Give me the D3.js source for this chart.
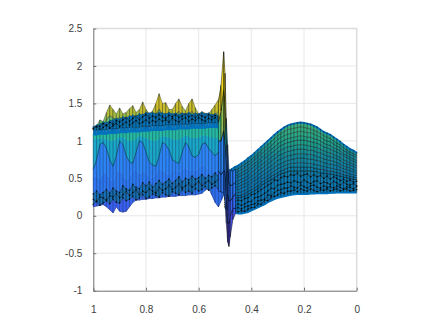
<!DOCTYPE html>
<html>
<head>
<meta charset="utf-8">
<script src="https://d3js.org/d3.v7.min.js"></script>
<style>
  body { margin: 0; background: #fff; }
  svg { display: block; }
  .axis text { font-family: "Liberation Sans", Arial, sans-serif; font-size: 10px; fill: #404040; }
  .axis path, .axis line { stroke: #6e6e6e; }
</style>
</head>
<body>
<div id="chart"></div>
<script>
var xTicks = [1, 0.8, 0.6, 0.4, 0.2, 0];
var yTicks = [-1, -0.5, 0, 0.5, 1, 1.5, 2, 2.5];

var xLeft = [1,.9875,.975,.9625,.95,.9375,.925,.9125,.9,.8875,.875,.8625,.85,.8375,.825,.8125,.8,.7875,.775,.7625,.75,.7375,.725,.7125,.7,.6875,.675,.6625,.65,.6375,.625,.6125,.6,.5875,.575,.5625,.55,.5375,.525,.5125,.5];
var xRight = [.5,.4875,.475,.4625,.45,.4375,.425,.4125,.4,.3875,.375,.3625,.35,.3375,.325,.3125,.3,.2875,.275,.2625,.25,.2375,.225,.2125,.2,.1875,.175,.1625,.15,.1375,.125,.1125,.1,.0875,.075,.0625,.05,.0375,.025,.0125,0];
var xJump = [.525,.515,.505,.5,.495,.49,.485,.48,.47,.46];

// left part, front face from the bottom up
var faceBottom = [.12,.13,.14,.15,.12,.08,.04,.12,.06,.05,.06,.12,.18,.21,.21,.22,.22,.23,.23,.24,.24,.25,.25,.26,.26,.26,.27,.27,.27,.28,.28,.28,.29,.30,.34,.37,.28,.18,.12,.22,.32];
var faceLow1 = [.15,.19,.14,.17,.20,.16,.22,.18,.17,.24,.20,.22,.26,.21,.24,.28,.23,.25,.29,.27,.25,.31,.28,.26,.32,.30,.28,.35,.31,.33,.30,.36,.33,.35,.39,.34,.37,.40,.36,.39,.37];
var faceLow2 = [.22,.19,.25,.24,.21,.27,.25,.30,.24,.28,.33,.27,.31,.35,.28,.33,.31,.36,.33,.30,.38,.34,.36,.41,.35,.38,.43,.37,.40,.44,.38,.42,.46,.40,.44,.47,.42,.45,.49,.43,.47];
var faceLow3 = [.29,.33,.28,.31,.35,.30,.37,.33,.31,.40,.36,.34,.42,.38,.36,.44,.40,.45,.38,.43,.47,.42,.45,.49,.43,.47,.52,.45,.50,.48,.53,.49,.51,.55,.50,.54,.52,.57,.53,.56,.55];
var faceMid = [.50,.55,.48,.60,.55,.50,.45,.58,.62,.55,.48,.52,.60,.62,.55,.60,.58,.52,.50,.56,.62,.60,.58,.55,.60,.62,.58,.62,.65,.60,.62,.60,.64,.68,.66,.62,.62,.60,.62,.58,.56];
var faceWave = [.62,.75,.95,.98,.90,.75,.66,.80,1.0,.95,.80,.72,.70,.85,1.0,.98,.85,.72,.68,.66,.80,.98,.95,.88,.75,.72,.70,.85,.98,.92,.80,.78,.82,.95,.98,.90,.85,.80,.85,.70,.60];
var faceTeal = [1.02,1.03,1.03,1.04,1.02,1.0,1.0,1.03,1.06,1.05,1.02,1.0,1.0,1.03,1.07,1.06,1.04,1.02,1.0,1.0,1.03,1.07,1.06,1.05,1.02,1.02,1.02,1.05,1.08,1.06,1.04,1.04,1.05,1.07,1.08,1.06,1.05,1.04,1.04,1.0,.95];
var bandLow = [1.09,1.09,1.10,1.10,1.10,1.11,1.11,1.11,1.12,1.12,1.12,1.13,1.13,1.13,1.13,1.14,1.14,1.14,1.15,1.15,1.15,1.15,1.16,1.16,1.16,1.16,1.17,1.17,1.17,1.17,1.18,1.18,1.18,1.18,1.18,1.19,1.19,1.19,1.18,1.15,1.10];
var bandHigh = [1.14,1.14,1.15,1.15,1.15,1.16,1.16,1.16,1.17,1.17,1.17,1.18,1.18,1.18,1.18,1.19,1.19,1.19,1.20,1.20,1.20,1.20,1.21,1.21,1.21,1.21,1.22,1.22,1.22,1.22,1.23,1.23,1.23,1.23,1.23,1.24,1.24,1.24,1.23,1.20,1.15];

// left part, back of the surface and the peaks behind it
var back1 = [1.16,1.19,1.15,1.18,1.21,1.17,1.20,1.23,1.19,1.22,1.25,1.21,1.24,1.27,1.23,1.25,1.28,1.24,1.27,1.25,1.29,1.26,1.28,1.25,1.30,1.27,1.25,1.29,1.31,1.26,1.29,1.27,1.31,1.28,1.26,1.30,1.28,1.31,1.27,1.24,1.16];
var back2 = [1.17,1.20,1.19,1.23,1.20,1.25,1.22,1.27,1.25,1.28,1.31,1.26,1.30,1.33,1.28,1.32,1.35,1.30,1.33,1.31,1.35,1.32,1.30,1.34,1.32,1.35,1.31,1.33,1.36,1.32,1.34,1.31,1.35,1.33,1.31,1.35,1.32,1.34,1.31,1.26,1.18];
var back3 = [1.19,1.21,1.22,1.25,1.24,1.27,1.28,1.30,1.29,1.32,1.31,1.33,1.34,1.33,1.36,1.35,1.38,1.37,1.38,1.36,1.38,1.37,1.36,1.38,1.36,1.37,1.35,1.37,1.36,1.38,1.35,1.37,1.36,1.38,1.36,1.37,1.35,1.36,1.34,1.30,1.20];
var peakMid = [1.17,1.19,1.23,1.22,1.28,1.34,1.31,1.28,1.32,1.28,1.29,1.31,1.33,1.28,1.31,1.36,1.31,1.28,1.30,1.35,1.43,1.35,1.36,1.32,1.32,1.35,1.40,1.33,1.30,1.35,1.40,1.32,1.28,1.30,1.29,1.28,1.32,1.35,1.40,1.50,1.60];
var peakTop = [1.15,1.2,1.28,1.26,1.38,1.48,1.42,1.36,1.44,1.36,1.38,1.43,1.47,1.38,1.42,1.52,1.42,1.36,1.4,1.5,1.63,1.5,1.51,1.42,1.42,1.5,1.56,1.46,1.4,1.5,1.56,1.44,1.36,1.39,1.37,1.36,1.42,1.48,1.55,1.75,1.9];

// narrow jump around 0.5
var jump0 = [.33,.32,.3,.2,-.1,-.35,-.41,-.28,-.05,.03];
var jump1 = [.6,.55,.6,.6,.3,-.1,-.1,0,.1,.1];
var jump2 = [1.0,1.0,1.15,1.0,.75,.3,.2,.2,.25,.3];
var jump3 = [1.25,1.4,1.7,1.5,1.05,.70,.45,.40,.42,.45];
var jump4 = [1.50,1.75,2.19,1.9,1.3,.95,.62,.60,.60,.62];

// right part, rows from the bottom edge to the top edge
var rightRows = [
  [.10,.08,.06,.04,.03,.03,.04,.05,.07,.09,.11,.13,.15,.18,.20,.22,.24,.25,.26,.27,.28,.285,.29,.29,.29,.29,.295,.295,.30,.30,.30,.30,.305,.305,.31,.31,.31,.31,.31,.31,.31],
  [.12,.11,.08,.07,.05,.07,.06,.09,.11,.11,.16,.15,.21,.20,.25,.26,.28,.31,.30,.33,.33,.35,.32,.36,.34,.33,.36,.34,.32,.35,.34,.36,.33,.35,.36,.33,.35,.36,.33,.34,.35],
  [.15,.13,.12,.10,.11,.09,.12,.13,.15,.16,.20,.21,.22,.28,.27,.31,.34,.35,.37,.37,.40,.38,.37,.41,.39,.37,.40,.41,.38,.37,.40,.38,.39,.37,.40,.38,.36,.39,.38,.36,.39],
  [.18,.17,.16,.13,.16,.14,.16,.19,.19,.24,.25,.27,.30,.33,.37,.36,.41,.42,.43,.45,.44,.47,.45,.44,.48,.45,.43,.46,.47,.43,.45,.44,.42,.46,.44,.41,.45,.42,.41,.43,.40],
  [.23,.21,.21,.19,.21,.20,.23,.24,.28,.29,.32,.35,.38,.41,.43,.48,.47,.51,.53,.52,.55,.54,.57,.53,.55,.56,.52,.55,.52,.54,.50,.53,.49,.52,.50,.47,.49,.46,.48,.45,.46],
  [.26,.25,.24,.24,.24,.25,.26,.29,.31,.34,.36,.41,.43,.46,.48,.51,.54,.56,.57,.59,.60,.60,.60,.60,.60,.60,.60,.59,.59,.57,.57,.56,.56,.55,.54,.53,.52,.51,.50,.49,.48],
  [.28,.28,.27,.27,.27,.28,.30,.33,.35,.38,.40,.45,.47,.50,.53,.55,.58,.60,.62,.64,.65,.65,.65,.65,.65,.65,.65,.64,.63,.62,.62,.60,.60,.59,.58,.57,.55,.54,.53,.52,.51],
  [.31,.31,.30,.31,.31,.32,.34,.37,.39,.42,.45,.49,.51,.54,.57,.60,.63,.65,.67,.69,.70,.70,.71,.71,.71,.70,.70,.69,.68,.67,.66,.65,.64,.63,.62,.61,.59,.58,.56,.55,.54],
  [.34,.34,.34,.35,.35,.37,.39,.41,.44,.47,.50,.53,.56,.59,.62,.65,.68,.70,.72,.74,.75,.76,.77,.77,.77,.76,.76,.75,.74,.73,.71,.70,.69,.68,.67,.65,.63,.62,.60,.59,.57],
  [.37,.37,.37,.38,.39,.41,.43,.45,.48,.51,.55,.58,.61,.64,.67,.70,.74,.76,.78,.80,.81,.82,.83,.83,.83,.82,.82,.81,.79,.78,.76,.75,.74,.73,.71,.69,.67,.65,.64,.62,.60],
  [.40,.40,.41,.42,.43,.45,.47,.50,.53,.56,.60,.63,.66,.70,.73,.76,.80,.82,.84,.86,.87,.88,.89,.89,.89,.88,.88,.87,.85,.84,.82,.80,.79,.78,.76,.74,.71,.69,.68,.66,.64],
  [.43,.43,.45,.46,.47,.49,.51,.54,.58,.61,.65,.68,.71,.75,.78,.81,.85,.88,.90,.92,.93,.94,.95,.95,.95,.94,.93,.92,.91,.89,.87,.85,.84,.82,.80,.78,.75,.73,.71,.69,.67],
  [.46,.47,.49,.50,.52,.54,.56,.59,.63,.66,.70,.73,.77,.80,.84,.87,.91,.94,.96,.98,.99,1.0,1.01,1.01,1.01,1.0,.99,.98,.97,.95,.92,.91,.89,.87,.85,.83,.80,.78,.75,.73,.71],
  [.48,.50,.52,.54,.55,.58,.60,.63,.67,.70,.74,.78,.81,.85,.89,.92,.96,.99,1.01,1.03,1.04,1.05,1.06,1.07,1.06,1.05,1.05,1.03,1.02,1.0,.97,.95,.94,.91,.89,.87,.83,.81,.78,.76,.74],
  [.51,.53,.55,.58,.59,.62,.65,.68,.71,.75,.79,.83,.86,.90,.94,.98,1.02,1.05,1.07,1.09,1.10,1.11,1.12,1.13,1.12,1.11,1.11,1.09,1.07,1.05,1.02,1.0,.99,.96,.93,.91,.87,.85,.82,.80,.78],
  [.54,.56,.58,.61,.63,.66,.69,.72,.75,.79,.83,.87,.91,.95,.99,1.03,1.07,1.10,1.12,1.15,1.16,1.17,1.18,1.19,1.18,1.17,1.16,1.14,1.12,1.10,1.07,1.05,1.03,1.0,.97,.95,.91,.88,.85,.83,.81],
  [.57,.59,.62,.65,.67,.70,.73,.77,.80,.84,.88,.92,.96,1.0,1.04,1.08,1.12,1.15,1.18,1.205,1.22,1.23,1.24,1.245,1.24,1.23,1.22,1.20,1.18,1.15,1.12,1.10,1.08,1.05,1.02,.99,.95,.92,.89,.87,.84]
];

function init(){
  var w = 436;
  var h = 327;

  var svg = d3.select("#chart").append("svg")
              .attr("width", w)
              .attr("height", h);

  var xScale = d3.scaleLinear().domain([1, 0]).range([93.3, 356.7]);
  var yScale = d3.scaleLinear().domain([-1, 2.5]).range([290.7, 28.5]);

  // parula, stretched so that most of the sheet stays blue
  var color = d3.scaleLinear()
                .domain([-0.41, 0, 0.3, 0.85, 1.0, 1.1, 1.25, 1.4, 1.6, 2.2])
                .range(["#3e26a8", "#4752f4", "#2d70ee", "#2d87f7", "#1aa8c8", "#25b9a0", "#6dc16f", "#c0bc30", "#e8c820", "#f9fb15"])
                .clamp(true);

  // the fine mesh on the right reads darker, its edges cover most of the fill
  var rightColor = d3.scaleLinear()
                     .domain([0, 0.5, 0.8, 1.0, 1.2])
                     .range(["#0072bd", "#0a78b0", "#128a9c", "#1fa58c", "#38b080"])
                     .clamp(true);

  // grid and box
  svg.append("g").selectAll("line").data(xTicks.slice(1, -1)).enter().append("line")
     .attr("x1", function(d){ return xScale(d); })
     .attr("x2", function(d){ return xScale(d); })
     .attr("y1", yScale(-1)).attr("y2", yScale(2.5))
     .attr("stroke", "#e8e8e8");
  svg.append("g").selectAll("line").data(yTicks.slice(1, -1)).enter().append("line")
     .attr("x1", xScale(1)).attr("x2", xScale(0))
     .attr("y1", function(d){ return yScale(d); })
     .attr("y2", function(d){ return yScale(d); })
     .attr("stroke", "#e8e8e8");
  svg.append("path")
     .attr("d", "M" + xScale(1) + "," + yScale(2.5) + "H" + xScale(0) + "V" + yScale(-1))
     .attr("fill", "none").attr("stroke", "#dcdcdc").attr("stroke-width", 1.5);

  var xAxis = d3.axisBottom(xScale).tickValues(xTicks).tickSizeInner(-3).tickSizeOuter(0).tickPadding(15)
                .tickFormat(function(d){ return String(d); });
  var yAxis = d3.axisLeft(yScale).tickValues(yTicks).tickSizeInner(-3).tickSizeOuter(0).tickPadding(11)
                .tickFormat(function(d){ return String(d); });

  svg.append("g").attr("class", "axis").attr("transform", "translate(0," + yScale(-1) + ")").call(xAxis);
  svg.append("g").attr("class", "axis").attr("transform", "translate(" + xScale(1) + ",0)").call(yAxis);

  // one strip of the surface between two rows, edge 0 means no black mesh on it
  function strip(xs, low, high, fill, edge){
    var line = d3.line()
                 .x(function(p){ return xScale(p[0]); })
                 .y(function(p){ return yScale(p[1]); });
    var fillOf = function(i){
      if(typeof fill == "string") return fill;
      return fill((low[i] + low[i + 1] + high[i] + high[i + 1]) / 4);
    };
    svg.append("g").selectAll("path")
       .data(d3.range(xs.length - 1))
       .enter()
       .append("path")
       .attr("d", function(i){
         return line([[xs[i], low[i]], [xs[i + 1], low[i + 1]], [xs[i + 1], high[i + 1]], [xs[i], high[i]]]) + "Z";
       })
       .attr("fill", fillOf)
       .attr("stroke", function(i){ return edge ? "#000" : fillOf(i); })
       .attr("stroke-opacity", edge ? edge : 1)
       .attr("stroke-width", 0.5);
  }

  // vertical mesh lines on the front face
  function columns(xs, low, high){
    svg.append("g").selectAll("line")
       .data(xs)
       .enter()
       .append("line")
       .attr("x1", function(d){ return xScale(d); })
       .attr("x2", function(d){ return xScale(d); })
       .attr("y1", function(d, i){ return yScale(low[i]); })
       .attr("y2", function(d, i){ return yScale(high[i]); })
       .attr("stroke", "#0a2a4a")
       .attr("stroke-opacity", 0.6)
       .attr("stroke-width", 0.7);
  }

  function rowLine(xs, row, stroke, width){
    var line = d3.line()
                 .x(function(d, i){ return xScale(xs[i]); })
                 .y(function(d){ return yScale(d); });
    svg.append("path")
       .datum(row)
       .attr("d", line)
       .attr("fill", "none")
       .attr("stroke", stroke)
       .attr("stroke-width", width);
  }

  // dark specks on the tightly packed rows
  function specks(xs, row, fill){
    svg.append("g").selectAll("circle")
       .data(row)
       .enter()
       .append("circle")
       .attr("cx", function(d, i){ return xScale(xs[i]); })
       .attr("cy", function(d){ return yScale(d); })
       .attr("r", 0.8)
       .attr("fill", fill)
       .attr("fill-opacity", 0.75);
  }

  // peaks first, everything else goes over them
  strip(xLeft, bandHigh, peakMid, color, 0.65);
  strip(xLeft, peakMid, peakTop, color, 0.65);
  strip(xLeft, back2, back3, "#0a70b4", 0.7);
  strip(xLeft, back1, back2, "#0a70b4", 0.7);
  strip(xLeft, bandHigh, back1, "#0a70b4", 0.6);
  specks(xLeft, back1, "#000");
  specks(xLeft, back2, "#000");
  specks(xLeft, back3, "#0072bd");

  strip(xLeft, faceBottom, faceLow1, color, 0);
  strip(xLeft, faceLow3, faceMid, color, 0);
  strip(xLeft, faceMid, faceWave, color, 0);
  strip(xLeft, faceWave, faceTeal, color(1.0), 0);
  strip(xLeft, faceTeal, bandLow, color(1.1), 0);
  columns(xLeft, faceBottom, bandLow);
  rowLine(xLeft, faceWave, "#0b3a5a", 0.7);
  rowLine(xLeft, faceBottom, "#1a2a70", 0.5);
  strip(xLeft, faceLow1, faceLow2, "#1570b8", 0.8);
  strip(xLeft, faceLow2, faceLow3, "#1570b8", 0.8);
  strip(xLeft, bandLow, bandHigh, "#0072bd", 0.2);
  specks(xLeft, faceLow1, "#000");
  specks(xLeft, faceLow2, "#000");
  specks(xLeft, faceLow3, "#000");
  rowLine(xLeft, bandLow, "#0072bd", 2.5);

  d3.range(rightRows.length - 1).forEach(function(r){
    strip(xRight, rightRows[r], rightRows[r + 1], rightColor, r < 6 ? 0.85 : 0.65);
  });
  rowLine(xRight, rightRows[rightRows.length - 1], "#0072bd", 1.8);
  rowLine(xRight, rightRows[0], "#0072bd", 1.8);
  specks(xRight, rightRows[1], "#000");
  specks(xRight, rightRows[2], "#000");
  specks(xRight, rightRows[3], "#000");
  specks(xRight, rightRows[4], "#000");
  specks(xRight, rightRows[rightRows.length - 1], "#06304f");

  var jumpRows = [jump0, jump1, jump2, jump3, jump4];
  d3.range(jumpRows.length - 1).forEach(function(r){
    strip(xJump, jumpRows[r], jumpRows[r + 1], color, 0.9);
  });
}

window.onload = init;
</script>
</body>
</html>
